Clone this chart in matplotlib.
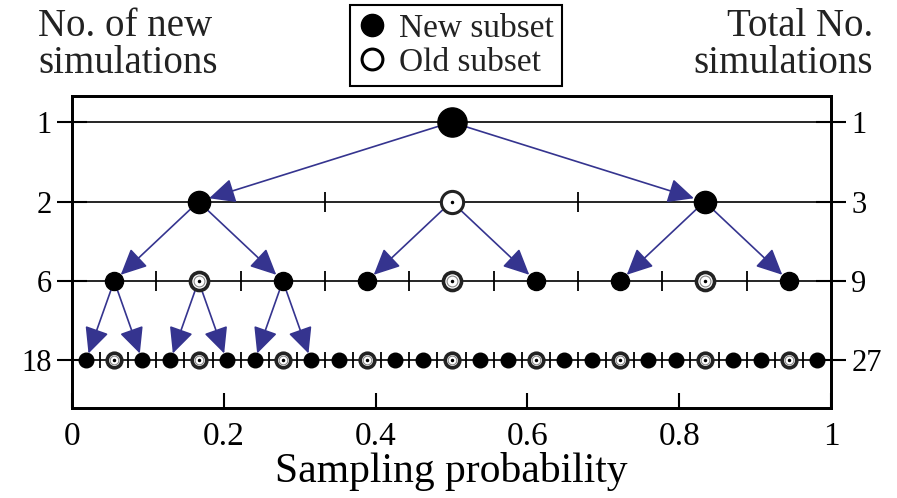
import matplotlib.pyplot as plt
from matplotlib.lines import Line2D

plt.rcParams['font.family'] = ['Liberation Serif', 'DejaVu Serif']
plt.rcParams['text.color'] = '#222222'

# Data
new_counts = [1, 2, 6, 18]        # left axis labels
total_counts = [1, 3, 9, 27]      # right axis labels, points per row
arrow_parents = [[0], [0, 1, 2], [0, 1, 2]]   # which points of a row spawn arrows
x_ticks = [0, 0.2, 0.4, 0.6, 0.8, 1]
x_tick_labels = ['0', '0.2', '0.4', '0.6', '0.8', '1']

# Style
msizes = [21, 16, 13, 10.5]
tick_sizes = [0, 14, 14, 12]
arrow_color = '#35348f'

fig = plt.figure(figsize=(8.97, 4.98), dpi=100)
ax = fig.add_axes([72 / 897, 1 - 408 / 498, (831 - 72) / 897, (408 - 96) / 498])

for r, n in enumerate(total_counts):
    y = r + 1
    ax.axhline(y, color='black', lw=1.2, zorder=1)
    bounds = [k / n for k in range(1, n)]
    if bounds:
        ax.plot(bounds, [y] * len(bounds), ls='none', marker='|',
                ms=tick_sizes[r], mew=1.3, color='black', zorder=2)
    xs = [(i + 0.5) / n for i in range(n)]
    new_x = [x for i, x in enumerate(xs) if r == 0 or i % 3 != 1]
    old_x = [x for i, x in enumerate(xs) if r > 0 and i % 3 == 1]
    ax.plot(new_x, [y] * len(new_x), ls='none', marker='o', ms=msizes[r],
            mfc='black', mec='black', zorder=4)
    if old_x:
        ax.plot(old_x, [y] * len(old_x), ls='none', marker='o', ms=msizes[r],
                mfc='white', mec='#222222', mew=2.2 if r == 1 else 2.6, zorder=4)
        if r > 1:
            ax.plot(old_x, [y] * len(old_x), ls='none', marker='o', ms=msizes[r] * 0.6,
                    mfc='white', mec='#888888', mew=0.8, zorder=5)
        ax.plot(old_x, [y] * len(old_x), ls='none', marker='o', ms=1.5,
                mfc='black', mec='black', zorder=6)

# Arrows from each parent to its two new children
for r, parents in enumerate(arrow_parents):
    n, n_next = total_counts[r], total_counts[r + 1]
    for p in parents:
        xp = (p + 0.5) / n
        for c in (3 * p, 3 * p + 2):
            xc = (c + 0.5) / n_next
            ax.annotate('', xy=(xc, r + 2), xytext=(xp, r + 1),
                        arrowprops=dict(arrowstyle='-|>,head_length=0.8,head_width=0.38',
                                        color=arrow_color, lw=1.2, mutation_scale=20,
                                        shrinkA=msizes[r] / 2, shrinkB=msizes[r + 1] / 2),
                        zorder=3)

ax.set_xlim(0, 1)
ax.set_ylim(4.6, 0.67)
ax.set_xticks(x_ticks)
ax.set_xticklabels(x_tick_labels)
ax.set_yticks(range(1, 5))
ax.set_yticklabels([str(v) for v in new_counts])
ax.tick_params(axis='x', direction='in', length=11, width=1.5, labelsize=24, pad=10)
ax.tick_params(axis='y', direction='inout', length=21, width=1.5, labelsize=22, pad=4)
ax.set_xlabel('Sampling probability', fontsize=30, labelpad=0)

ax2 = ax.twinx()
ax2.set_ylim(4.6, 0.67)
ax2.set_yticks(range(1, 5))
ax2.set_yticklabels([str(v) for v in total_counts])
ax2.tick_params(axis='y', direction='inout', length=21, width=1.5, labelsize=22, pad=4)

for a in (ax, ax2):
    for s in a.spines.values():
        s.set_linewidth(2)

fig.text(38 / 897, 1 - 8 / 498, 'No. of new\nsimulations', ha='left', va='top',
         fontsize=28, linespacing=1.0)
fig.text(873 / 897, 1 - 8 / 498, 'Total No.\nsimulations', ha='right', va='top',
         fontsize=28, linespacing=1.0, multialignment='right')

handles = [Line2D([], [], ls='none', marker='o', ms=16, mfc='black', mec='black'),
           Line2D([], [], ls='none', marker='o', ms=15, mfc='white', mec='black', mew=2.2)]
leg = fig.legend(handles, ['New subset', 'Old subset'], loc='upper center',
                 bbox_to_anchor=(456 / 897, 1 - 5 / 498), frameon=True, fancybox=False,
                 edgecolor='black', framealpha=1, fontsize=24, handlelength=0.8,
                 handletextpad=0.4, borderpad=0.25, labelspacing=0.1, borderaxespad=0)
leg.get_frame().set_linewidth(1.5)

fig.savefig('out.png', dpi=100)
